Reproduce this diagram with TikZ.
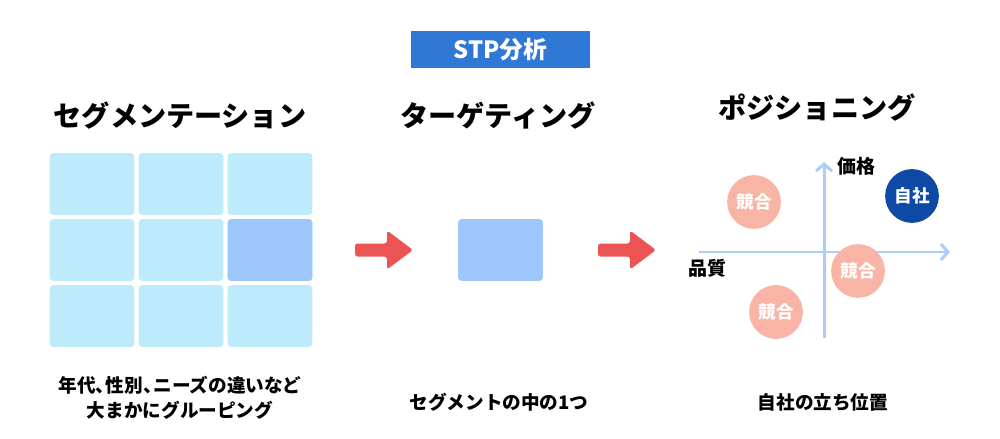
\documentclass[tikz,border=0pt]{standalone}
\usepackage{fontspec}
\setmainfont{Noto Sans CJK JP}
\usetikzlibrary{arrows.meta}
\definecolor{stpblue}{HTML}{2F78D6}
\definecolor{cellblue}{HTML}{BDEBFB}
\definecolor{pickblue}{HTML}{9DC6FB}
\definecolor{axisblue}{HTML}{A9CEFA}
\definecolor{arrowred}{HTML}{EC5454}
\definecolor{rivalpink}{HTML}{F8B4A5}
\definecolor{ownnavy}{HTML}{0E49A6}
\tikzset{
  cell/.style={fill=cellblue, rounded corners=2pt, inner sep=0pt,
    minimum width=48.2pt, minimum height=35.2pt},
  heading/.style={font=\bfseries\fontsize{16}{19}\selectfont},
  caption/.style={font=\bfseries\fontsize{10.6}{14}\selectfont, align=center},
  axislabel/.style={font=\bfseries\fontsize{10.8}{13}\selectfont},
  firm/.style={circle, inner sep=0pt, minimum size=30.6pt, text=white,
    font=\bfseries\fontsize{10}{12}\selectfont},
  redarrow/.pic={
    \fill[arrowred, rounded corners=1.5pt] (0,-6.5) -- (32,-6.5) -- (32,-19.5)
      -- (58,0) -- (32,19.5) -- (32,6.5) -- (0,6.5) -- cycle;
  }
}
\begin{document}
\begin{tikzpicture}[x=0.02cm, y=-0.02cm]
  \useasboundingbox (0,0) rectangle (1000,439);
  \node[fill=stpblue, text=white, minimum width=101.5pt, minimum height=21pt,
    font=\bfseries\fontsize{13.5}{15}\selectfont] (stp) at (500.5,49.5) {STP分析};

  \node[heading] (seg) at (180,116) {セグメンテーション};
  \node[heading] (tgt) at (498,116) {ターゲティング};
  \node[heading] (pos) at (817,108) {ポジショニング};

  % segment grid
  \foreach \c in {0,1,2}
    \foreach \r in {0,1,2}
      \node[cell] (seg-\c-\r) at ({92+89*\c},{184+66*\r}) {};
  \node[cell, fill=pickblue] (seg-pick) at (seg-2-1) {};

  \pic at (355,250) {redarrow};
  \node[cell, fill=pickblue] (target) at (500.5,250) {};
  \pic at (598,250) {redarrow};

  % positioning map
  \coordinate (yb) at (824,338);
  \coordinate (yt) at (824,162);
  \coordinate (xl) at (699,252);
  \coordinate (xr) at (950,252);
  \draw[axisblue, line width=1.7pt, -{Straight Barb[length=4pt, width=9pt]}] (yb) -- (yt);
  \draw[axisblue, line width=1.7pt, -{Straight Barb[length=4pt, width=9pt]}] (xl) -- (xr);
  \node[axislabel] (price) at (856,166) {価格};
  \node[axislabel] (quality) at (707,268) {品質};

  \node[firm, fill=rivalpink] (rival1) at (754,202) {競合};
  \node[firm, fill=ownnavy] (own) at (912,196) {自社};
  \node[firm, fill=rivalpink] (rival2) at (858,271) {競合};
  \node[firm, fill=rivalpink] (rival3) at (776,312) {競合};

  \node[caption] (segtext) at (180,398)
    {年代、\kern-0.45em性別、\kern-0.45emニーズの違いなど\\大まかにグルーピング};
  \node[caption] (tgttext) at (499,402) {セグメントの中の1つ};
  \node[caption] (postext) at (823,402) {自社の立ち位置};
\end{tikzpicture}
\end{document}
